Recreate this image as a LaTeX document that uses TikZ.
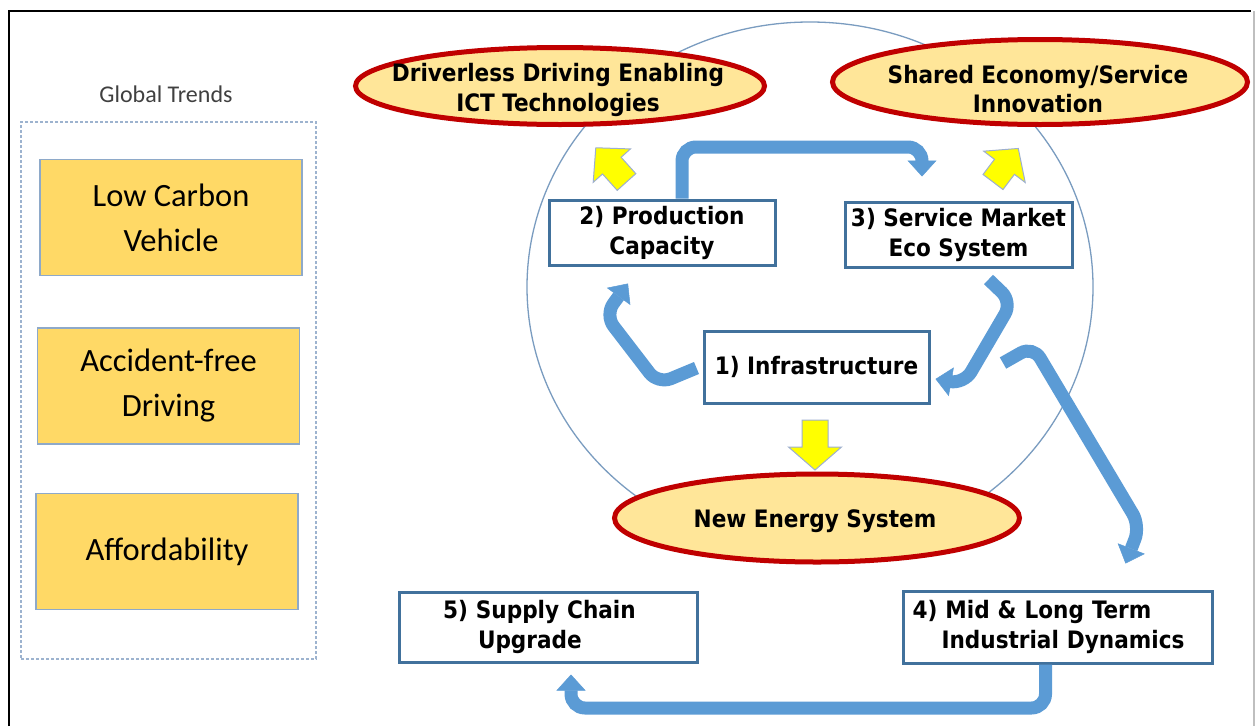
\documentclass[tikz,border=0pt]{standalone}
\usepackage{fontspec}
\setmainfont{Carlito}
\newfontfamily\tahoma{DejaVu Sans Condensed}
\usetikzlibrary{arrows.meta,shapes.geometric}
\definecolor{arrowblue}{HTML}{5B9BD5}
\definecolor{boxblue}{HTML}{41719C}
\definecolor{ellred}{HTML}{C00000}
\definecolor{ellfill}{HTML}{FFE699}
\definecolor{trendfill}{HTML}{FFD966}
\definecolor{trendline}{HTML}{8EA9C9}
\definecolor{circline}{HTML}{7A9CC0}
\definecolor{dashline}{HTML}{9DB3CF}
\definecolor{yline}{HTML}{9DAFD0}
\definecolor{yfill}{HTML}{FFFF00}
\newcommand{\yarrow}[7]{% tail x, tail y, angle, length, head length, shaft half, head half
  \begin{scope}[shift={(#1,#2)},rotate=#3]
    \draw[yarr] (0,-#6) -- ({#4-#5},-#6) -- ({#4-#5},-#7) -- (#4,0) -- ({#4-#5},#7) -- ({#4-#5},#6) -- (0,#6) -- cycle;
  \end{scope}}
\begin{document}
\begin{tikzpicture}[x=1pt,y=-1pt,
  trend/.style={draw=trendline, line width=1.5pt, fill=trendfill, minimum width=262pt, minimum height=116pt, inner sep=0pt, align=center, font=\fontsize{32.5}{45}\selectfont},
  ell/.style={ellipse, draw=ellred, line width=5pt, fill=ellfill, inner sep=0pt},
  etext/.style={font=\tahoma\bfseries\fontsize{24}{29.5}\selectfont, align=center, inner sep=0pt},
  bbox/.style={draw=boxblue, line width=3pt, fill=white, inner sep=0pt, align=center, font=\tahoma\bfseries\fontsize{24}{30}\selectfont},
  barrow/.style={draw=arrowblue, line width=13pt, rounded corners=14pt, -{Triangle[width=29pt,length=16pt,line width=0.5pt]}},
  yarr/.style={fill=yfill, draw=yline, line width=1pt, line join=miter},
  ]
\useasboundingbox (0,0) rectangle (1257,726);
\fill[white] (0,0) rectangle (1257,726);
% frame
\draw[black, line width=2.5pt] (9,726) -- (9,11) -- (1251,11);
\draw[black!25, line width=1.5pt] (1254,11) -- (1254,726);
% big circle
\draw[circline, line width=1.3pt] (810,287) ellipse [x radius=283pt, y radius=265pt];
% left panel
\node[font=\fontsize{24}{28}\selectfont, text=black!75] (gt) at (166,94) {Global Trends};
\node[draw=dashline, dash pattern=on 3pt off 2pt, line width=1.2pt, minimum width=295pt, minimum height=537pt, inner sep=0pt] (panel) at (168.5,390.5) {};
\node[trend] (lowc) at (171,217.5) {Low Carbon\\Vehicle};
\node[trend] (accf) at (168.5,386) {Accident-free\\Driving};
\node[trend] (affo) at (167,551.5) {Affordability};
% ellipses
\node[ell, minimum width=409pt, minimum height=77pt] (drive) at (560,86) {};
\node[etext] (drivet) at (558,90) {Driverless Driving Enabling\\ICT Technologies};
\node[ell, minimum width=415pt, minimum height=85pt] (shared) at (1040,82) {};
\node[etext] (sharedt) at (1038,89) {Shared Economy/Service\\Innovation};
\node[ell, minimum width=405pt, minimum height=88pt] (energy) at (817,518) {};
\node[etext] (energyt) at (815,521) {New Energy System};
% blue boxes
\node[bbox, minimum width=226pt, minimum height=65pt] (prod) at (662,232.5) {2) Production\\Capacity};
\node[bbox, minimum width=227pt, minimum height=65pt] (serv) at (958.5,234.5) {3) Service Market\\Eco System};
\node[bbox, minimum width=225pt, minimum height=72pt] (infra) at (816.5,367) {1) Infrastructure};
\node[bbox, minimum width=298pt, minimum height=70pt, align=left, text width=254pt] (supply) at (548,627) {\hspace*{22pt}5) Supply Chain\\\hspace*{57pt}Upgrade};
\node[bbox, minimum width=309pt, minimum height=72pt, align=left, text width=290pt] (mid) at (1057.5,627) {4) Mid \& Long Term\\\hspace*{29pt}Industrial Dynamics};
% blue arrows
\draw[barrow] ([xshift=20pt]prod.north) |- (922,147) -- ([xshift=-36.5pt,yshift=24pt]serv.north);
\draw[barrow] ([xshift=-6pt,yshift=-1pt]infra.west) -- (658,384) -- (605,315) -- ([xshift=-34pt,yshift=-17pt]prod.south);
\draw[barrow] ([xshift=-85pt,yshift=-11pt]serv.south east) -- (1012,302) -- (964,384) -- ([xshift=5pt,yshift=-12pt]infra.east);
\coordinate (dstart) at (1003,363);
\draw[barrow] (dstart) -- (1033,346) -- (1140,526) -- ([xshift=68pt,yshift=26pt]mid.north);
\draw[barrow] ([xshift=-12pt]mid.south) |- (571,708) -- ([xshift=23pt,yshift=-11pt]supply.south);
% yellow arrows
\yarrow{626.5}{182}{131.9}{46}{24}{12.5}{25}
\yarrow{993}{182}{53}{42}{23}{12.5}{26}
\yarrow{815}{420}{-90}{50}{23}{13}{26.5}
\end{tikzpicture}
\end{document}
